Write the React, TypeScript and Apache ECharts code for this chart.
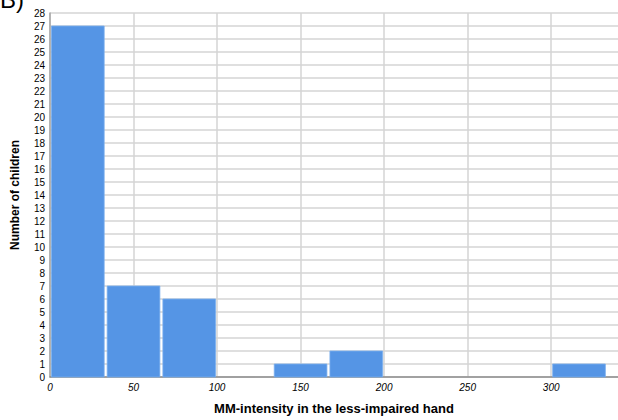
import React, { useEffect, useRef } from "react";
import * as echarts from "echarts";

const binEdges = [0, 33.33, 66.67, 100, 133.33, 166.67, 200, 233.33, 266.67, 300, 333.33];
const counts = [27, 7, 6, 0, 1, 2, 0, 0, 0, 1];
const xTicks = [0, 50, 100, 150, 200, 250, 300];
const panelLabel = "B)";
const xTitle = "MM-intensity in the less-impaired hand";
const yTitle = "Number of children";

export default function App() {
  const ref = useRef<HTMLDivElement>(null);
  useEffect(() => {
    if (!ref.current) return;
    const chart = echarts.init(ref.current, null, { renderer: "svg" });
    const data = counts
      .map((c, i) => [binEdges[i], binEdges[i + 1], c])
      .filter((d) => d[2] > 0);
    chart.setOption({
      animation: false,
      backgroundColor: "#ffffff",
      grid: { left: 50, right: 0, top: 13, bottom: 42 },
      graphic: [
        {
          type: "text",
          left: 0,
          top: -13,
          style: {
            text: panelLabel,
            fontSize: 24,
            fontFamily: "Liberation Sans, Arial, sans-serif",
            fill: "#000",
          },
        },
      ],
      xAxis: {
        type: "value",
        min: 0,
        max: 340,
        interval: 50,
        name: xTitle,
        nameLocation: "middle",
        nameGap: 25,
        nameTextStyle: {
          fontSize: 13,
          fontWeight: "bold",
          color: "#000",
          fontFamily: "Liberation Sans, Arial, sans-serif",
        },
        axisLine: { show: true, lineStyle: { color: "#8c8c8c", width: 1.5 } },
        axisTick: { show: false },
        axisLabel: {
          fontSize: 10,
          fontStyle: "italic",
          color: "#000",
          margin: 5,
          fontFamily: "Liberation Sans, Arial, sans-serif",
          showMaxLabel: false,
          formatter: (v: number) => (xTicks.includes(v) ? String(v) : ""),
        },
        splitLine: { show: true, showMaxLine: false, lineStyle: { color: "#d4d4d4", width: 1.5 } },
      },
      yAxis: {
        type: "value",
        min: 0,
        max: 28,
        interval: 1,
        name: yTitle,
        nameLocation: "middle",
        nameGap: 29,
        nameTextStyle: {
          fontSize: 12,
          fontWeight: "bold",
          color: "#000",
          fontFamily: "Liberation Sans, Arial, sans-serif",
        },
        axisLine: { show: true, lineStyle: { color: "#a6a6a6", width: 1.5 } },
        axisTick: { show: false },
        axisLabel: {
          fontSize: 10,
          color: "#000",
          margin: 5,
          fontFamily: "Liberation Sans, Arial, sans-serif",
        },
        splitLine: { show: true, lineStyle: { color: "#d4d4d4", width: 1.5 } },
      },
      series: [
        {
          type: "custom",
          data,
          encode: { x: [0, 1], y: 2 },
          renderItem: (params: any, api: any) => {
            const p0 = api.coord([api.value(0), 0]);
            const p1 = api.coord([api.value(1), api.value(2)]);
            return {
              type: "rect",
              shape: {
                x: p0[0] + 1.5,
                y: p1[1],
                width: p1[0] - p0[0] - 3,
                height: p0[1] - p1[1],
              },
              style: { fill: "#5595e5", stroke: "#7aaeee", lineWidth: 0.8 },
            };
          },
        },
      ],
    });
    return () => chart.dispose();
  }, []);
  return (
    <div
      ref={ref}
      style={{ position: "fixed", left: 0, top: 0, width: 618, height: 420 }}
    />
  );
}
